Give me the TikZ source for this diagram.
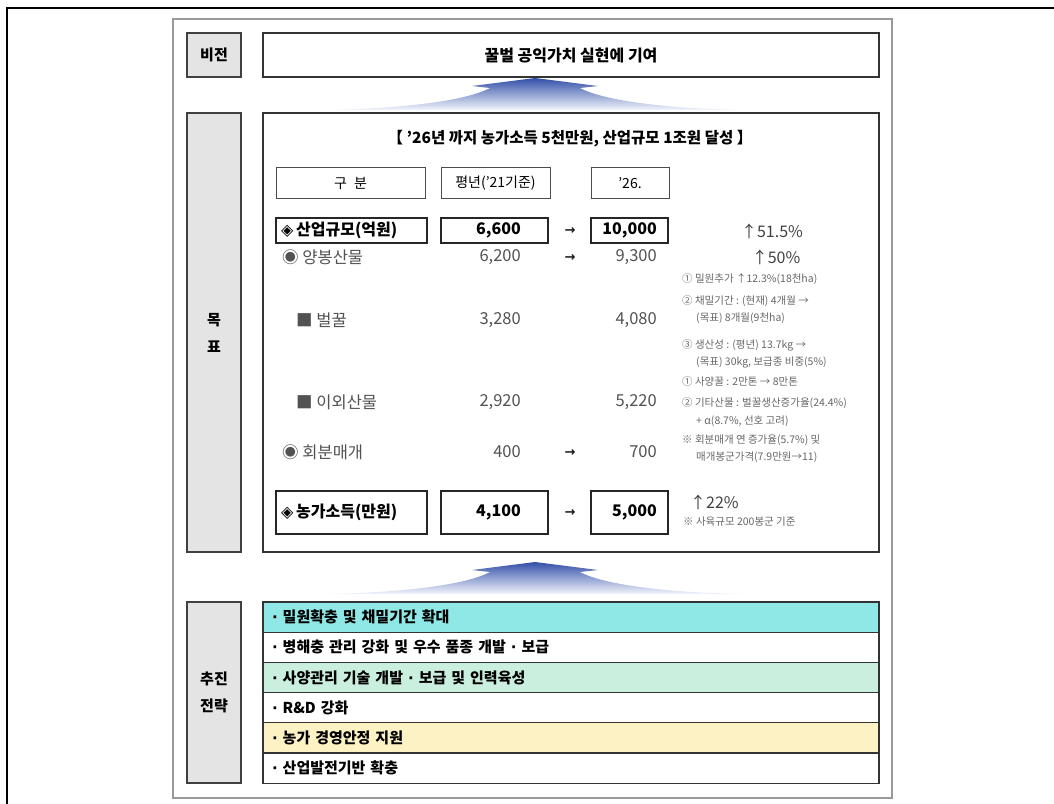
\documentclass[tikz,border=0pt]{standalone}
\usepackage{fontspec}
\setmainfont{Noto Sans CJK KR}
\newfontfamily\dejavu{DejaVu Sans}
\newcommand{\dia}{{\dejavu ◈}}
\newcommand{\mdot}{{\dejavu ·}}
\definecolor{cyanrow}{HTML}{8FE8E6}
\definecolor{greenrow}{HTML}{CBEFDF}
\definecolor{yellowrow}{HTML}{FCF2C4}
\definecolor{lblfill}{HTML}{E4E4E4}
\definecolor{arrtop}{HTML}{3350A8}
\definecolor{arrbot}{HTML}{F2F5FC}
\begin{document}
\begin{tikzpicture}[x=1pt,y=-1pt,
  lbl/.style={draw=black!75, line width=1.6pt, fill=lblfill, font=\bfseries\fontsize{15}{27}\selectfont, align=center, inner sep=0pt},
  bigbox/.style={draw=black!80, line width=1.6pt, inner sep=0pt},
  hdr/.style={draw=black!70, line width=0.9pt, font=\fontsize{14}{16}\selectfont, inner sep=0pt},
  vbox/.style={draw=black!85, line width=1.1pt, inner sep=0pt},
  btxt/.style={font=\bfseries\fontsize{16}{18}\selectfont, inner sep=0pt},
  gtxt/.style={text=black!68, font=\fontsize{16.5}{18}\selectfont, inner sep=0pt},
  rarr/.style={text=black!90, font=\dejavu\bfseries\fontsize{13}{14}\selectfont, inner sep=0pt},
  pct/.style={text=black!75, font=\fontsize{16}{18}\selectfont, inner sep=0pt},
  note/.style={text=black!60, font=\fontsize{10.5}{12}\selectfont, anchor=west, inner sep=0pt},
  srow/.style={draw=black!80, line width=1.3pt, minimum width=616pt, minimum height=30.2pt, text width=598pt, align=left, inner sep=0pt, font=\bfseries\fontsize{15}{17}\selectfont}
]
\useasboundingbox (0,0) rectangle (1054,803);
\clip (0,0) rectangle (1054,803);
% frames
\draw[black, line width=1.3pt] (7,8) rectangle (1080,830);
\draw[black!40, line width=1.4pt] (173,19) rectangle (892,798);

% vision
\node[lbl, minimum width=54pt, minimum height=44pt] (lv) at (214,55) {비전};
\node[bigbox, minimum width=616pt, minimum height=44pt, font=\bfseries\fontsize{16}{18}\selectfont] (vis) at (571,55) {꿀벌 공익가치 실현에 기여};

% arrows
\shade[top color=arrtop, bottom color=arrbot]
  (535,78) -- (472,86) -- (490,88) .. controls (466,101) and (400,109) .. (322,110)
  -- (748,110) .. controls (670,109) and (604,101) .. (580,88) -- (598,86) -- cycle;
\shade[top color=arrtop, bottom color=arrbot]
  (535,562) -- (472,570) -- (490,572) .. controls (466,585) and (400,593) .. (322,594)
  -- (748,594) .. controls (670,593) and (604,585) .. (580,572) -- (598,570) -- cycle;

% goals
\node[lbl, minimum width=54pt, minimum height=439pt] (lg) at (214,332.5) {목\\표};
\node[bigbox, minimum width=616pt, minimum height=439pt] (goal) at (571,332.5) {};
\node[font=\bfseries\fontsize{15.5}{18}\selectfont, inner sep=0pt] (title) at (570,139) {【 ’26년 까지 농가소득 5천만원, 산업규모 1조원 달성 】};

\node[hdr, minimum width=149pt, minimum height=31pt] (h1) at (350.5,183) {구\hspace{0.5em}분};
\node[hdr, minimum width=109pt, minimum height=31pt] (h2) at (495.5,183) {평년(’21기준)};
\node[hdr, minimum width=78pt, minimum height=31pt] (h3) at (630,183) {’26.};

% row 1
\node[vbox, minimum width=151pt, minimum height=25pt] (b11) at (351.5,230.5) {};
\node[vbox, minimum width=107pt, minimum height=25pt] (b12) at (494.5,230.5) {};
\node[vbox, minimum width=77pt, minimum height=25pt] (b13) at (629.5,230.5) {};
\node[btxt, anchor=west] (t11) at (281,230.5) {\dia\,산업규모(억원)};
\node[btxt, anchor=east] (t12) at (521,230.5) {6,600};
\node[rarr] (a1) at (570,231) {→};
\node[btxt, anchor=east] (t13) at (657,230.5) {10,000};
\node[pct] (p1) at (772,231) {↑51.5\%};

% row 2
\node[gtxt, anchor=west] (t21) at (282,257) {◉ 양봉산물};
\node[gtxt, anchor=east] (t22) at (521,257) {6,200};
\node[rarr] (a2) at (570,258) {→};
\node[gtxt, anchor=east] (t23) at (657,257) {9,300};
\node[pct] (p2) at (776,257) {↑50\%};

% row 3
\node[gtxt, anchor=west] (t31) at (296,320) {■ 벌꿀};
\node[gtxt, anchor=east] (t32) at (521,320) {3,280};
\node[gtxt, anchor=east] (t33) at (657,320) {4,080};

% row 4
\node[gtxt, anchor=west] (t41) at (296,402) {■ 이외산물};
\node[gtxt, anchor=east] (t42) at (521,402) {2,920};
\node[gtxt, anchor=east] (t43) at (657,402) {5,220};

% row 5
\node[gtxt, anchor=west] (t51) at (282,452) {◉ 회분매개};
\node[gtxt, anchor=east] (t52) at (521,452) {400};
\node[rarr] (a5) at (570,453) {→};
\node[gtxt, anchor=east] (t53) at (657,452) {700};

% row 6
\node[vbox, minimum width=151pt, minimum height=43pt] (b61) at (351.5,512.5) {};
\node[vbox, minimum width=107pt, minimum height=43pt] (b62) at (494.5,512.5) {};
\node[vbox, minimum width=77pt, minimum height=43pt] (b63) at (629.5,512.5) {};
\node[btxt, anchor=west] (t61) at (281,512.5) {\dia\,농가소득(만원)};
\node[btxt, anchor=east] (t62) at (521,512.5) {4,100};
\node[rarr] (a6) at (570,513) {→};
\node[btxt, anchor=east] (t63) at (657,512.5) {5,000};
\node[pct, anchor=west] (p6) at (690,502) {↑22\%};
\node[note] (n11) at (683,522) {※ 사육규모 200봉군 기준};

% notes
\node[note] (n1) at (682,279) {① 밀원추가 ↑12.3\%(18천ha)};
\node[note] (n2) at (682,301) {② 채밀기간 : (현재) 4개월 →};
\node[note] (n3) at (696,318) {(목표) 8개월(9천ha)};
\node[note] (n4) at (682,345) {③ 생산성 : (평년) 13.7kg →};
\node[note] (n5) at (696,362) {(목표) 30kg, 보급종 비중(5\%)};
\node[note] (n6) at (682,382) {① 사양꿀 : 2만톤 → 8만톤};
\node[note] (n7) at (682,403) {② 기타산물 : 벌꿀생산증가율(24.4\%)};
\node[note] (n8) at (696,421) {+ α(8.7\%, 선호 고려)};
\node[note] (n9) at (682,440) {※ 회분매개 연 증가율(5.7\%) 및};
\node[note] (n10) at (696,457) {매개봉군가격(7.9만원→11)};

% strategy
\node[lbl, minimum width=54pt, minimum height=181pt] (ls) at (214,692.5) {추진\\전략};
\node[srow, fill=cyanrow] (s1) at (571,617.1) {\mdot\ 밀원확충 및 채밀기간 확대};
\node[srow, fill=white] (s2) at (571,647.3) {\mdot\ 병해충 관리 강화 및 우수 품종 개발 \mdot\ 보급};
\node[srow, fill=greenrow] (s3) at (571,677.5) {\mdot\ 사양관리 기술 개발 \mdot\ 보급 및 인력육성};
\node[srow, fill=white] (s4) at (571,707.7) {\mdot\ R\&D 강화};
\node[srow, fill=yellowrow] (s5) at (571,737.9) {\mdot\ 농가 경영안정 지원};
\node[srow, fill=white] (s6) at (571,768.1) {\mdot\ 산업발전기반 확충};
\end{tikzpicture}
\end{document}
